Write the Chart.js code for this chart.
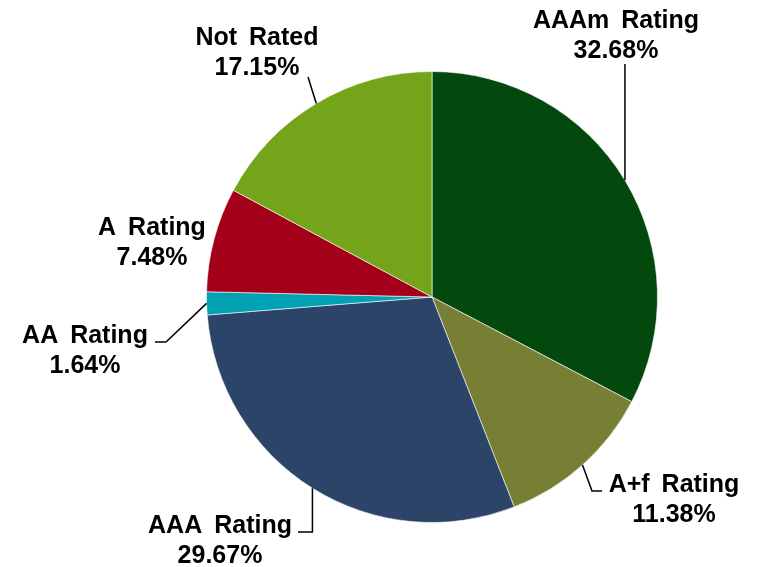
<!DOCTYPE html>
<html>
<head>
<meta charset="utf-8">
<script src="https://cdn.jsdelivr.net/npm/chart.js@4.4.0/dist/chart.umd.min.js"></script>
<style>
  html, body { margin: 0; padding: 0; background: #fff; }
  #wrap { width: 757px; height: 567px; }
</style>
</head>
<body>
<div id="wrap"><canvas id="myChart" width="757" height="567"></canvas></div>
<script>
// data, clockwise from 12 o'clock
var categories = ["AAAm Rating", "A+f Rating", "AAA Rating", "AA Rating", "A Rating", "Not Rated"];
var shares = [32.68, 11.38, 29.67, 1.64, 7.48, 17.15];
var sliceColors = ["#03490d", "#767f33", "#2c4468", "#00a1b3", "#a50019", "#73a41a"];

// where each label sits and how its leader runs (relative to the canvas)
// text: [centre x, baseline of first line]; path: points after the arc's outer mid point
var labelLayout = [
  { text: [616, 28],  path: [[null, 64]] },
  { text: [674, 492], path: [[592, 491], [602, 491]] },
  { text: [220, 533], path: [[null, 532], [298, 532]] },
  { text: [85, 343],  path: [[166, 342], [155, 342]] },
  { text: [152, 235], path: [] },
  { text: [257, 45],  path: [[308, 77]] }
];

var labelPlugin = {
  id: 'sliceLabels',
  afterDraw: (chart) => {
    var ctx = chart.ctx;
    var meta = chart.getDatasetMeta(0);
    ctx.save();
    ctx.strokeStyle = '#000';
    ctx.lineWidth = 1.5;
    meta.data.forEach((arc, i) => {
      var p = arc.getProps(['x', 'y', 'startAngle', 'endAngle', 'outerRadius'], true);
      var mid = (p.startAngle + p.endAngle) / 2;
      var sx = p.x + Math.cos(mid) * p.outerRadius;
      var sy = p.y + Math.sin(mid) * p.outerRadius;
      var lay = labelLayout[i];
      if (lay.path.length) {
        ctx.beginPath();
        ctx.moveTo(sx, sy);
        lay.path.forEach((pt) => {
          ctx.lineTo(pt[0] === null ? sx : pt[0], pt[1]);
        });
        ctx.stroke();
      }
      ctx.fillStyle = '#000';
      ctx.font = 'bold 25px "Liberation Sans", Arial, sans-serif';
      ctx.wordSpacing = '5px';
      ctx.textAlign = 'center';
      ctx.textBaseline = 'alphabetic';
      ctx.fillText(categories[i], lay.text[0], lay.text[1]);
      ctx.fillText(shares[i].toFixed(2) + '%', lay.text[0], lay.text[1] + 30);
    });
    ctx.restore();
  }
};

var chart = new Chart(document.getElementById('myChart'), {
  type: 'pie',
  data: {
    labels: categories,
    datasets: [{
      data: shares,
      backgroundColor: sliceColors,
      borderColor: 'rgba(255,255,255,0.6)',
      borderWidth: 1
    }]
  },
  options: {
    responsive: false,
    animation: false,
    layout: { padding: { top: 71, bottom: 44, left: 206, right: 99 } },
    plugins: {
      legend: { display: false },
      tooltip: { enabled: false }
    }
  },
  plugins: [labelPlugin]
});
</script>
</body>
</html>
